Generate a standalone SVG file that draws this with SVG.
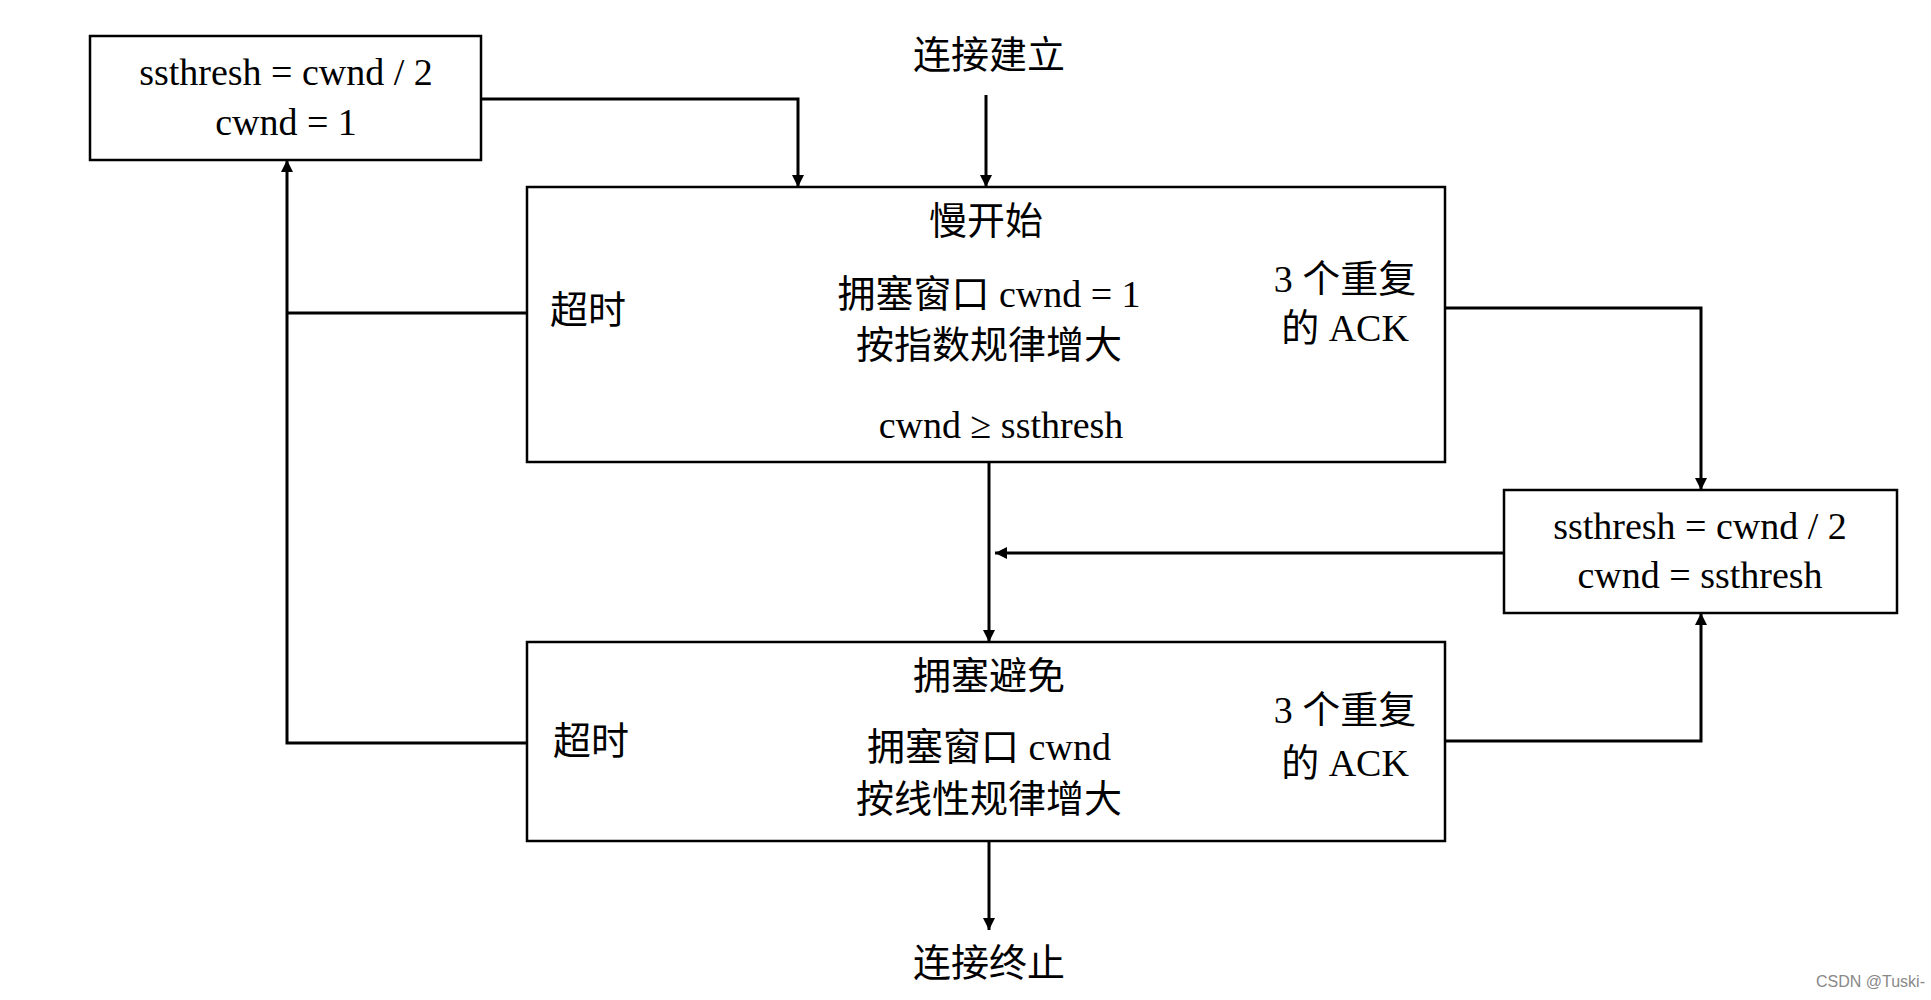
<svg xmlns="http://www.w3.org/2000/svg" width="1931" height="1000" viewBox="0 0 1931 1000">
<style>
.b{fill:none;stroke:#000;stroke-width:2.5}
.l{fill:none;stroke:#000;stroke-width:3;marker-end:url(#a)}
.n{fill:none;stroke:#000;stroke-width:3}
text{font-family:"Liberation Serif","Noto Sans CJK SC",serif;font-size:38px;fill:#000;text-anchor:middle;dominant-baseline:middle}
</style>
<defs><marker id="a" viewBox="0 0 10 10" refX="10" refY="5" markerWidth="12" markerHeight="24" orient="auto" markerUnits="userSpaceOnUse"><path d="M0,0L10,5L0,10z"/></marker></defs>
<rect width="1931" height="1000" fill="#fff"/>
<g id="connectors">
<path class="l" d="M986,95V187"/>
<path class="l" d="M481,99H798V187"/>
<path class="n" d="M527,313H287"/>
<path class="l" d="M527,743H287V160"/>
<path class="l" d="M1445,308H1701V490"/>
<path class="l" d="M1445,741H1701V613"/>
<path class="l" d="M989,462V642"/>
<path class="l" d="M1504,553H995"/>
<path class="l" d="M989,841V930"/>
</g>
<g id="start"><text x="989" y="59">连接建立</text></g>
<g id="reset1"><rect class="b" x="90" y="36" width="391" height="124"/><text x="286" y="76">ssthresh = cwnd / 2</text><text x="286" y="126">cwnd = 1</text></g>
<g id="slowstart"><rect class="b" x="527" y="187" width="918" height="275"/>
<text x="588" y="314">超时</text><text x="986" y="225">慢开始</text>
<text x="989" y="298">拥塞窗口 cwnd = 1</text><text x="989" y="349">按指数规律增大</text>
<text x="1001" y="429">cwnd ≥ ssthresh</text>
<text x="1345" y="283">3 个重复</text><text x="1345" y="332">的 ACK</text></g>
<g id="reset2"><rect class="b" x="1504" y="490" width="393" height="123"/><text x="1700" y="530">ssthresh = cwnd / 2</text><text x="1700" y="579">cwnd = ssthresh</text></g>
<g id="avoid"><rect class="b" x="527" y="642" width="918" height="199"/>
<text x="989" y="680">拥塞避免</text><text x="591" y="745">超时</text>
<text x="989" y="751">拥塞窗口 cwnd</text><text x="989" y="803">按线性规律增大</text>
<text x="1345" y="714">3 个重复</text><text x="1345" y="767">的 ACK</text></g>
<g id="end"><text x="989" y="967">连接终止</text></g>
<text x="1925" y="983" style="font-family:'Liberation Sans',sans-serif;font-size:16px;fill:#888;text-anchor:end">CSDN @Tuski-</text>
</svg>
